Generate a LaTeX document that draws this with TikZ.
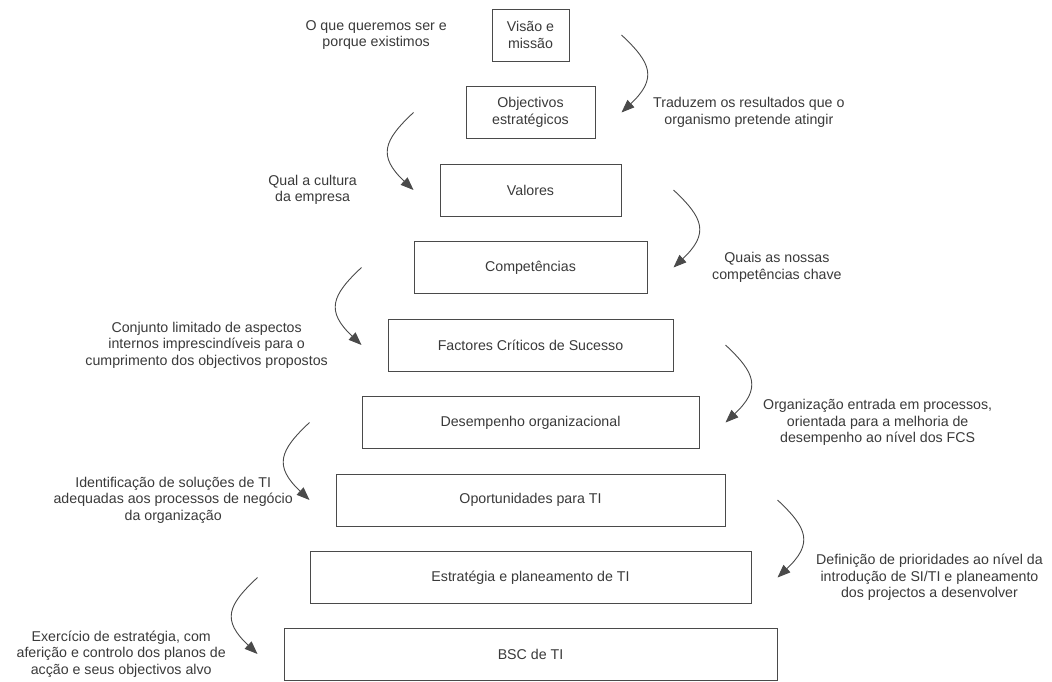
\documentclass[tikz,border=0pt]{standalone}
\usepackage{fontspec}
\setmainfont{Liberation Sans}
\usetikzlibrary{arrows.meta,calc}
\definecolor{ink}{HTML}{3A3A3A}
\definecolor{edge}{HTML}{4A4A4A}
\begin{document}
\begin{tikzpicture}[x=1pt,y=-1pt,
  level/.style={draw=edge,line width=1pt,minimum height=52pt,inner sep=0pt,
    align=center,text=ink,font=\fontsize{14.2}{16.5}\selectfont},
  note/.style={align=center,text=ink,inner sep=0pt,
    font=\fontsize{14.2}{16.5}\selectfont},
  flow/.style={draw=edge,line width=0.9pt,-{Triangle[length=13pt,width=10pt]}},
]
\fill[white] (0,0) rectangle (1052,681);
\useasboundingbox (0,0) rectangle (1052,681);

% the nine stacked levels, each one 52pt wider than the one above
\node[level,minimum width=77pt]  (b1) at (530.5,35)    {Visão e\\missão};
\node[level,minimum width=129pt] (b2) at (530.5,112.5) {Objectivos\\estratégicos};
\node[level,minimum width=181pt] (b3) at (530.5,190)   {Valores};
\node[level,minimum width=233pt] (b4) at (530.5,267.5) {Competências};
\node[level,minimum width=285pt] (b5) at (530.5,345)   {Factores Críticos de Sucesso};
\node[level,minimum width=337pt] (b6) at (530.5,422.5) {Desempenho organizacional};
\node[level,minimum width=389pt] (b7) at (530.5,500)   {Oportunidades para TI};
\node[level,minimum width=441pt] (b8) at (530.5,577.5) {Estratégia e planeamento de TI};
\node[level,minimum width=493pt] (b9) at (530.5,654)   {BSC de TI};

% explanatory notes beside the levels
\node[note,anchor=east] (t1) at (447,35)    {O que queremos ser e\\porque existimos};
\node[note,anchor=west] (t2) at (653,112.5) {Traduzem os resultados que o\\organismo pretende atingir};
\node[note,anchor=east] (t3) at (357,190)   {Qual a cultura\\da empresa};
\node[note,anchor=west] (t4) at (712,267.5) {Quais as nossas\\competências chave};
\node[note,anchor=east] (t5) at (328,345)   {Conjunto limitado de aspectos\\internos imprescindíveis para o\\cumprimento dos objectivos propostos};
\node[note,anchor=west] (t6) at (763,422.5) {Organização entrada em processos,\\orientada para a melhoria de\\desempenho ao nível dos FCS};
\node[note,anchor=east] (t7) at (293,500)   {Identificação de soluções de TI\\adequadas aos processos de negócio\\da organização};
\node[note,anchor=west] (t8) at (816,577.5) {Definição de prioridades ao nível da\\introdução de SI/TI e planeamento\\dos projectos a desenvolver};
\node[note,anchor=east] (t9) at (226,654)   {Exercício de estratégia, com\\aferição e controlo dos planos de\\acção e seus objectivos alvo};

% end points of the curved arrows, alternating right and left
\coordinate (r1s) at ($(b1.east)+(52,0)$);  \coordinate (r1e) at ($(b2.east)+(26,0)$);
\coordinate (l2s) at ($(b2.west)+(-52,0)$); \coordinate (l2e) at ($(b3.west)+(-26,0)$);
\coordinate (r3s) at ($(b3.east)+(52,0)$);  \coordinate (r3e) at ($(b4.east)+(26,0)$);
\coordinate (l4s) at ($(b4.west)+(-52,0)$); \coordinate (l4e) at ($(b5.west)+(-26,0)$);
\coordinate (r5s) at ($(b5.east)+(52,0)$);  \coordinate (r5e) at ($(b6.east)+(26,0)$);
\coordinate (l6s) at ($(b6.west)+(-52,0)$); \coordinate (l6e) at ($(b7.west)+(-26,0)$);
\coordinate (r7s) at ($(b7.east)+(52,0)$);  \coordinate (r7e) at ($(b8.east)+(26,0)$);
\coordinate (l8s) at ($(b8.west)+(-52,0)$); \coordinate (l8e) at ($(b9.west)+(-26,0)$);

\foreach \s/\e in {r1s/r1e, r3s/r3e, r5s/r5e, r7s/r7e}
  \draw[flow] (\s) .. controls +(30,28) and +(36,-34) .. (\e);
\foreach \s/\e in {l2s/l2e, l4s/l4e, l6s/l6e, l8s/l8e}
  \draw[flow] (\s) .. controls +(-30,28) and +(-36,-34) .. (\e);
\end{tikzpicture}
\end{document}
